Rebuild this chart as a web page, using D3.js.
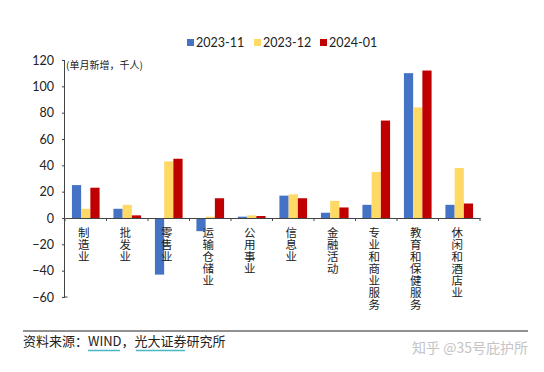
<!DOCTYPE html>
<html>
<head>
<meta charset="utf-8">
<script src="https://cdn.jsdelivr.net/npm/d3@7"></script>
<style>
  body { margin: 0; background: #fff; }
  svg { display: block; }
  text { font-family: "Lato", "Noto Sans CJK SC", sans-serif; fill: #222; }
  .cn { font-family: "Noto Sans CJK SC", sans-serif; }
  .vlabel { writing-mode: vertical-rl; text-orientation: upright; }
</style>
</head>
<body>
<svg width="544" height="372"></svg>
<script>
const categories = ['制造业', '批发业', '零售业', '运输仓储业', '公用事业', '信息业', '金融活动', '专业和商业服务', '教育和保健服务', '休闲和酒店业'];
const seriesNames = ['2023-11', '2023-12', '2024-01'];
const nov = [25, 7, -43, -10, 1, 17, 4, 10, 110, 10];
const dec = [7, 10, 43, 1, 2, 18, 13, 35, 84, 38];
const jan = [23, 2, 45, 15, 1.5, 15, 8, 74, 112, 11];
const yTicks = [-60, -40, -20, 0, 20, 40, 60, 80, 100, 120];
const colors = ['#4472C4', '#FFD966', '#C00000'];

const svg = d3.select('svg');
const series = [nov, dec, jan];

const x = d3.scaleBand().domain(categories).range([65, 480]).paddingInner(0).paddingOuter(0);
const xs = d3.scaleBand().domain(seriesNames).range([0, x.bandwidth()]).paddingInner(0).paddingOuter(0.75);
const y = d3.scaleLinear().domain([-60, 120]).range([297, 60]);

// bars
const g = svg.append('g');
categories.forEach((c, i) => {
  series.forEach((s, j) => {
    const v = s[i];
    g.append('rect')
      .attr('x', x(c) + xs(seriesNames[j]))
      .attr('width', xs.bandwidth())
      .attr('y', y(Math.max(0, v)))
      .attr('height', Math.abs(y(v) - y(0)))
      .attr('fill', colors[j]);
  });
});

// y axis
const yAxis = svg.append('g')
  .attr('transform', 'translate(65,0)')
  .call(d3.axisLeft(y).tickValues(yTicks).tickSize(3).tickPadding(8));
yAxis.select('.domain').attr('stroke', '#444').attr('d', `M-0.5,${y(120)}V${y(-60)}h3`);
yAxis.selectAll('line').attr('stroke', '#444');
yAxis.selectAll('text').style('font-size', '12.5px').attr('fill', '#222');

// x axis at zero
const xAxis = svg.append('g')
  .attr('transform', `translate(0,${y(0)})`)
  .call(d3.axisBottom(x).tickSize(0).tickFormat(''));
xAxis.select('.domain').attr('stroke', '#444');
svg.append('g')
  .selectAll('line')
  .data(categories.map(c => x(c)).concat([x.range()[1]]))
  .join('line')
  .attr('x1', d => d).attr('x2', d => d)
  .attr('y1', y(0)).attr('y2', y(0) + 3)
  .attr('stroke', '#444');

// vertical category labels
svg.append('g')
  .selectAll('text')
  .data(categories)
  .join('text')
  .attr('class', 'cn vlabel')
  .attr('x', c => x(c) + x.bandwidth() / 2 - 2)
  .attr('y', 227)
  .style('font-size', '11.5px')
  .style('letter-spacing', '0.5px')
  .text(c => c);

// unit label
svg.append('text')
  .attr('class', 'cn')
  .attr('x', 66)
  .attr('y', 69)
  .style('font-size', '10px')
  .text('(单月新增，千人)');

// legend
const legendX = [187, 254, 320];
seriesNames.forEach((name, j) => {
  svg.append('rect')
    .attr('x', legendX[j]).attr('y', 39)
    .attr('width', 7).attr('height', 7)
    .attr('fill', colors[j]);
  svg.append('text')
    .attr('x', legendX[j] + 9).attr('y', 47)
    .style('font-size', '12.5px')
    .text(name);
});

// source line
svg.append('line')
  .attr('x1', 23).attr('x2', 528)
  .attr('y1', 331).attr('y2', 331)
  .attr('stroke', '#222').attr('stroke-width', 1);
svg.append('text')
  .attr('class', 'cn')
  .attr('x', 23).attr('y', 346)
  .style('font-size', '13px')
  .text('资料来源：WIND，光大证券研究所');
svg.append('path')
  .attr('d', 'M88,350.5H120M136,350.5H185')
  .attr('stroke', '#4bb7c6').attr('stroke-width', 1.5).attr('fill', 'none');

// watermark
svg.append('text')
  .attr('class', 'cn')
  .attr('x', 528).attr('y', 353)
  .attr('text-anchor', 'end')
  .style('font-size', '14px')
  .style('fill', '#c4c4c4')
  .text('知乎 @35号庇护所');
</script>
</body>
</html>
